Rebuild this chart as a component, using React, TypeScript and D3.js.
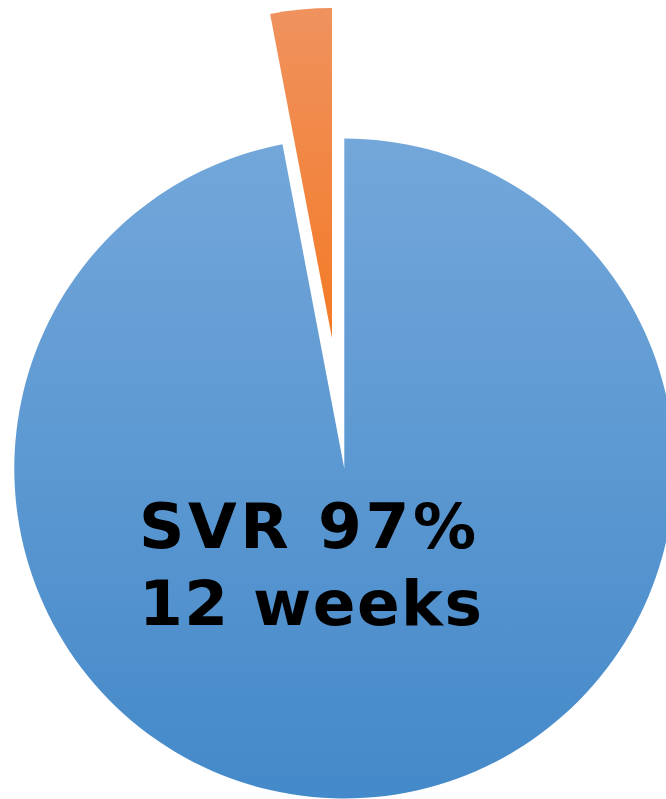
import React from "react";
import * as d3 from "d3";

const categories = ["SVR", "Non-SVR"];
const values = [97, 3];
const explode = [0, 131];
const labelLines = ["SVR 97%", "12 weeks"];

const W = 666;
const H = 799;
const cx = 344.3;
const cy = 468.5;
const R = 330;

const gradients = [
  { id: "gBlue", top: "#73a7da", bottom: "#4489c9" },
  { id: "gOrange", top: "#ef925e", bottom: "#f47a26" },
];

export default function App() {
  const pie = d3.pie<number>().sort(null).startAngle(0).endAngle(2 * Math.PI);
  const arcs = pie(values);
  const arcGen = d3.arc<d3.PieArcDatum<number>>().innerRadius(0).outerRadius(R);

  return (
    <svg
      width={W}
      height={H}
      style={{ position: "absolute", left: 0, top: 0, display: "block" }}
    >
      <defs>
        {gradients.map((g) => (
          <linearGradient key={g.id} id={g.id} x1="0" y1="0" x2="0" y2="1">
            <stop offset="0" stopColor={g.top} />
            <stop offset="1" stopColor={g.bottom} />
          </linearGradient>
        ))}
      </defs>
      <g transform={`translate(${cx},${cy})`}>
        {arcs.map((a, i) => {
          const mid = (a.startAngle + a.endAngle) / 2;
          const dx = Math.sin(mid) * explode[i];
          const dy = -Math.cos(mid) * explode[i];
          return (
            <path
              key={categories[i]}
              d={arcGen(a) || ""}
              transform={`translate(${dx},${dy})`}
              fill={`url(#${gradients[i].id})`}
            />
          );
        })}
      </g>
      <g
        fontFamily="'DejaVu Sans', Verdana, sans-serif"
        fontWeight="bold"
        fontSize={63}
        fill="#000"
      >
        <text x={139} y={548} textLength={337} lengthAdjust="spacing">
          {labelLines[0]}
        </text>
        <text x={139} y={625} textLength={343} lengthAdjust="spacing">
          {labelLines[1]}
        </text>
      </g>
    </svg>
  );
}
